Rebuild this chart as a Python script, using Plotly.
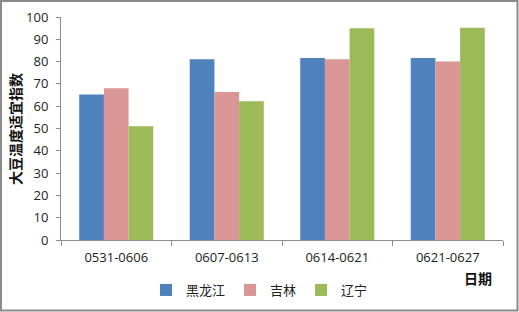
import plotly.graph_objects as go

categories = ["0531-0606", "0607-0613", "0614-0621", "0621-0627"]
series_names = ["黑龙江", "吉林", "辽宁"]
heilongjiang = [65.2, 81.0, 81.6, 81.6]
jilin = [68.0, 66.4, 81.0, 80.1]
liaoning = [51.0, 62.2, 94.9, 95.2]
colors = ["#4F81BD", "#D99694", "#9BBB59"]
yticks = list(range(0, 101, 10))

W, H = 519, 312
L, R, T, B = 61, 16, 17, 72
pw, ph = W - L - R, H - T - B

def px(x):
    return (x - L) / pw

def py(y):
    return (H - B - y) / ph

fig = go.Figure()
for name, vals, c in zip(series_names, [heilongjiang, jilin, liaoning], colors):
    fig.add_trace(go.Bar(x=categories, y=vals, name=name, marker=dict(color=c, line=dict(width=0))))

fig.update_layout(
    width=W, height=H, autosize=False,
    margin=dict(l=L, r=R, t=T, b=B, autoexpand=False),
    paper_bgcolor="white", plot_bgcolor="white",
    barmode="group", bargap=0.33, bargroupgap=0,
    font=dict(family="Open Sans, Noto Sans CJK SC", size=13, color="#222"),
    showlegend=True,
    legend=dict(orientation="h", xref="container", yref="container",
                x=146 / W, y=1 - 290 / H, xanchor="left", yanchor="middle",
                font=dict(family="Noto Sans CJK SC", size=13, color="#222"),
                itemwidth=30, tracegroupgap=0, bgcolor="rgba(0,0,0,0)"),
    xaxis=dict(showline=True, linecolor="#8c8c8c", linewidth=1, ticks="outside",
               tickson="boundaries", ticklen=5, tickcolor="#8c8c8c", automargin=False,
               ticklabelstandoff=5,
               tickfont=dict(size=13, family="Open Sans"), showgrid=False),
    yaxis=dict(range=[0, 100], tickvals=yticks, showline=True, linecolor="#8c8c8c",
               linewidth=1, ticks="outside", ticklen=4, tickcolor="#8c8c8c", automargin=False,
               ticklabelstandoff=5,
               showgrid=False, zeroline=False, tickfont=dict(size=13, family="Open Sans")),
    annotations=[
        dict(text="<b>日期</b>", xref="paper", yref="paper", x=px(478), y=py(278),
             xanchor="center", yanchor="middle",
             showarrow=False, font=dict(family="Noto Sans CJK SC", size=14, color="#111")),
        dict(text="<b>大豆温度适宜指数</b>", xref="paper", yref="paper", x=px(15), y=py(129),
             xanchor="center", yanchor="middle",
             textangle=-90, showarrow=False,
             font=dict(family="Noto Sans CJK SC", size=14, color="#111")),
    ],
    shapes=[dict(type="rect", xref="paper", yref="paper", x0=px(1), x1=px(517.5), y0=py(310.5), y1=py(1),
                 line=dict(color="#8a8a8a", width=2))],
)

fig.write_html("out.html")
